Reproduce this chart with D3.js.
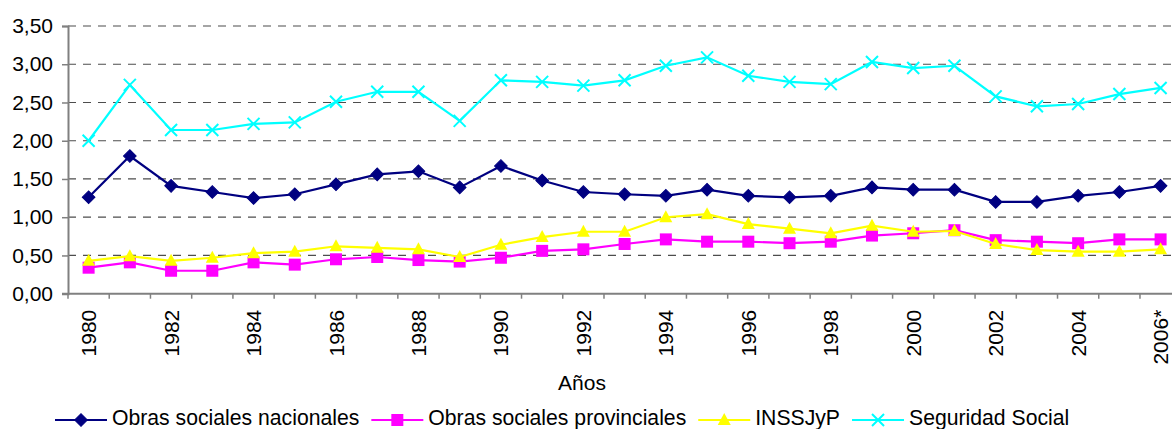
<!DOCTYPE html>
<html>
<head>
<meta charset="utf-8">
<script src="https://cdn.jsdelivr.net/npm/d3@7"></script>
<style>
  html, body { margin: 0; padding: 0; background: #fff; overflow: hidden; }
  svg { display: block; font-family: "Liberation Sans", Arial, sans-serif; }
</style>
</head>
<body>
<svg id="chart" width="1172" height="429"></svg>
<script>
const years = ["1980","1981","1982","1983","1984","1985","1986","1987","1988","1989","1990","1991","1992","1993","1994","1995","1996","1997","1998","1999","2000","2001","2002","2003","2004","2005","2006*"];
const xTickLabels = ["1980","1982","1984","1986","1988","1990","1992","1994","1996","1998","2000","2002","2004","2006*"];
const yTicks = [0, 0.5, 1, 1.5, 2, 2.5, 3, 3.5];

const nacionales   = [1.26,1.80,1.41,1.33,1.25,1.30,1.43,1.56,1.60,1.39,1.67,1.48,1.33,1.30,1.28,1.36,1.28,1.26,1.28,1.39,1.36,1.36,1.20,1.20,1.28,1.33,1.41];
const provinciales = [0.34,0.41,0.30,0.30,0.41,0.38,0.45,0.48,0.44,0.42,0.47,0.56,0.58,0.65,0.71,0.68,0.68,0.66,0.68,0.76,0.79,0.83,0.70,0.68,0.66,0.71,0.71];
const inssjyp      = [0.43,0.49,0.43,0.47,0.53,0.55,0.62,0.60,0.58,0.48,0.64,0.74,0.81,0.81,1.00,1.04,0.91,0.85,0.79,0.89,0.81,0.82,0.65,0.57,0.55,0.55,0.58];
const seguridad    = [2.00,2.73,2.14,2.14,2.22,2.24,2.51,2.64,2.64,2.26,2.79,2.77,2.72,2.79,2.98,3.09,2.85,2.77,2.74,3.03,2.95,2.98,2.58,2.45,2.48,2.61,2.69];

const seriesNames  = ["Obras sociales nacionales","Obras sociales provinciales","INSSJyP","Seguridad Social"];
const seriesColors = ["#000080","#FF00FF","#FFFF00","#00FFFF"];
const seriesShapes = ["diamond","square","triangle","x"];
const seriesValues = [nacionales, provinciales, inssjyp, seguridad];

const series = seriesNames.map((n, i) => ({ name: n, color: seriesColors[i], shape: seriesShapes[i], values: seriesValues[i] }));

const svg = d3.select("#chart");
const plotLeft = 68, bandW = 41.23, plotTop = 26, plotBottom = 293.7;
const x = d3.scaleBand().domain(years).range([plotLeft, plotLeft + bandW * years.length]).paddingInner(0).paddingOuter(0);
const y = d3.scaleLinear().domain([0, 3.5]).range([plotBottom, plotTop]);
const fmt = v => d3.format(".2f")(v).replace(".", ",");
const cx = d => x(d) + x.bandwidth() / 2;

// gridlines
svg.append("g").selectAll("line").data(yTicks.filter(v => v > 0)).join("line")
  .attr("x1", plotLeft).attr("x2", 1172)
  .attr("y1", d => y(d)).attr("y2", d => y(d))
  .attr("stroke", "#4d4d4d").attr("stroke-width", 1.2)
  .attr("stroke-dasharray", "8,7");

// y axis
const yAxis = d3.axisLeft(y).tickValues(yTicks).tickFormat(fmt).tickSize(6).tickPadding(9);
const gy = svg.append("g").attr("transform", `translate(${plotLeft},0)`).call(yAxis);
gy.select(".domain").attr("stroke", "#808080").attr("stroke-width", 2);
gy.selectAll(".tick line").attr("stroke", "#808080").attr("stroke-width", 1.5);
gy.selectAll(".tick text").attr("font-size", 21).attr("fill", "#000").attr("font-family", "Liberation Sans, Arial, sans-serif");

// x axis line
svg.append("line").attr("x1", plotLeft - 6).attr("x2", 1172).attr("y1", plotBottom).attr("y2", plotBottom)
  .attr("stroke", "#808080").attr("stroke-width", 2);
// x ticks at band boundaries
const bounds = years.map(d => x(d)).concat([x(years[years.length - 1]) + x.bandwidth()]);
svg.append("g").selectAll("line").data(bounds).join("line")
  .attr("x1", d => d).attr("x2", d => d).attr("y1", plotBottom).attr("y2", plotBottom + 5)
  .attr("stroke", "#808080").attr("stroke-width", 1.5);

// x labels
const xAxis = d3.axisBottom(x).tickValues(xTickLabels).tickSize(0).tickPadding(0);
const gx = svg.append("g").attr("transform", `translate(0,${plotBottom})`).call(xAxis);
gx.select(".domain").remove();
gx.selectAll(".tick text")
  .attr("font-size", 21).attr("fill", "#000").attr("font-family", "Liberation Sans, Arial, sans-serif")
  .attr("text-anchor", "end")
  .attr("transform", "rotate(-90)")
  .attr("x", -16).attr("y", 0).attr("dy", "0.36em");

// axis title
svg.append("text").attr("x", 582).attr("y", 390).attr("text-anchor", "middle")
  .attr("font-size", 21).attr("fill", "#000").text("Años");

// marker generator
function drawMarker(g, shape, color, px, py) {
  if (shape === "diamond") {
    g.append("path").attr("d", d3.symbol(d3.symbolSquare, 80)()).attr("transform", `translate(${px},${py}) rotate(45)`)
      .attr("fill", color).attr("stroke", color).attr("stroke-width", 1);
  } else if (shape === "square") {
    g.append("rect").attr("x", px - 6).attr("y", py - 6).attr("width", 12).attr("height", 12).attr("fill", color);
  } else if (shape === "triangle") {
    g.append("path").attr("d", `M${px},${py - 7}L${px + 6.5},${py + 5}L${px - 6.5},${py + 5}Z`).attr("fill", color);
  } else {
    g.append("path").attr("d", `M${px - 6},${py - 6}L${px + 6},${py + 6}M${px + 6},${py - 6}L${px - 6},${py + 6}`)
      .attr("stroke", color).attr("stroke-width", 2).attr("fill", "none");
  }
}

const line = d3.line().x((d, i) => cx(years[i])).y(d => y(d));

series.forEach(s => {
  const g = svg.append("g");
  g.append("path").datum(s.values).attr("d", line)
    .attr("fill", "none").attr("stroke", s.color).attr("stroke-width", 2.2);
  s.values.forEach((v, i) => drawMarker(g, s.shape, s.color, cx(years[i]), y(v)));
});

// legend
const lg = svg.append("g");
let lx = 55;
const ly = 420;
series.forEach(s => {
  lg.append("line").attr("x1", lx).attr("x2", lx + 52).attr("y1", ly).attr("y2", ly)
    .attr("stroke", s.color).attr("stroke-width", 2.2);
  drawMarker(lg, s.shape, s.color, lx + 26, ly);
  const t = lg.append("text").attr("x", lx + 57).attr("y", 425).attr("font-size", 21.2).attr("fill", "#000").text(s.name);
  lx += 57 + t.node().getComputedTextLength() + 12;
});
</script>
</body>
</html>
